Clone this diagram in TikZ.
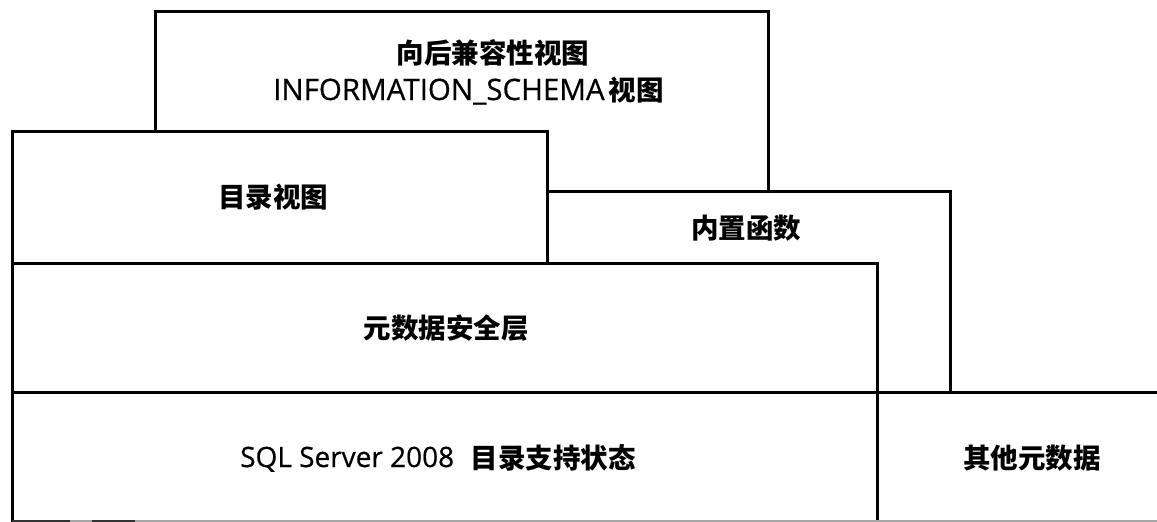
\documentclass[tikz,border=0pt]{standalone}
\usepackage{fontspec}
\setmainfont{Open Sans}
\newfontfamily\cjk{Noto Sans CJK SC}
\newfontfamily\latin[FakeBold=0.6]{Open Sans}
\begin{document}
\begin{tikzpicture}[x=1pt,y=-1pt,
  layer/.style={draw=black,line width=3pt,fill=white},
  edge/.style={draw=black,line width=3pt},
  lbl/.style={font=\fontsize{27.5}{32}\selectfont\cjk\bfseries,inner sep=0pt,anchor=center},
  lat/.style={font=\fontsize{28}{32}\selectfont\latin,inner sep=0pt,anchor=base west}]
\useasboundingbox (0,0) rectangle (1157,522);
\fill[white] (0,0) rectangle (1157,522);
% back box
\draw[layer] (155,11) rectangle (768,392);
% builtin functions box
\draw[layer] (547,191) rectangle (950,392);
% catalog view box
\draw[layer] (12,131) rectangle (547,263);
% metadata security layer
\draw[layer] (12,263) rectangle (877,392);
% bottom row
\draw[edge] (12,392) -- (1157,392);
\draw[edge] (12,392) -- (12,522);
\draw[edge] (877,392) -- (877,522);
\draw[draw=black!35,line width=1.5pt] (12,521) -- (1157,521);
\draw[draw=black!80,line width=2pt] (12,521) -- (70,521) (92,521) -- (135,521);
% labels
\node[lbl] (compat) at (493,53) {向后兼容性视图};
\node[lat,font=\fontsize{29.5}{32}\selectfont\latin] (info) at (273,100) {INFORMATION\_SCHEMA};
\node[lbl,anchor=east] (infoview) at (664,90) {视图};
\node[lbl] (catalog) at (273,197) {目录视图};
\node[lbl] (builtin) at (746,228) {内置函数};
\node[lbl] (security) at (446,328) {元数据安全层};
\node[lat] (sql) at (240,467) {SQL Server 2008};
\node[lbl,anchor=east] (sqlstate) at (636,458) {目录支持状态};
\node[lbl] (other) at (1032,458) {其他元数据};
\end{tikzpicture}
\end{document}
